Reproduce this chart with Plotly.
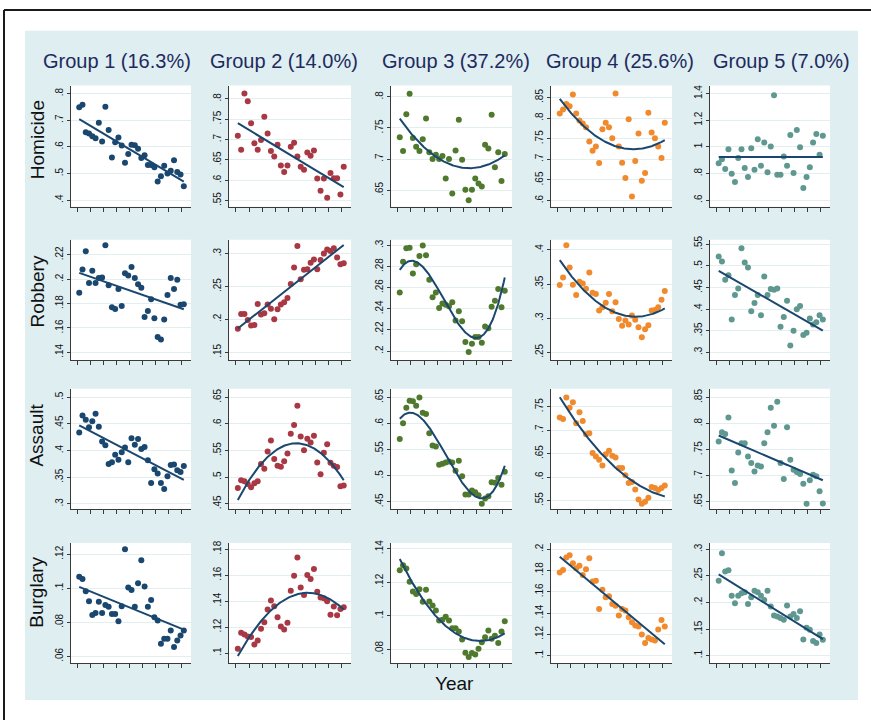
import numpy as np
import plotly.graph_objects as go

# ---------------------------------------------------------------------------
# Data: annual rates for 33 years, one series per crime type and group
# ---------------------------------------------------------------------------
years = list(range(1980, 2013))

crimes = ["Homicide", "Robbery", "Assault", "Burglary"]
groups = ["Group 1 (16.3%)", "Group 2 (14.0%)", "Group 3 (37.2%)",
          "Group 4 (25.6%)", "Group 5 (7.0%)"]

homicide_g1 = [.749, .758, .655, .650, .640, .632, .690, .620, .750, .663, .560,
               .617, .635, .605, .540, .573, .608, .606, .593, .558, .569, .532,
               .532, .524, .470, .490, .529, .500, .510, .550, .506, .496, .452]
homicide_g2 = [.709, .675, .813, .794, .740, .691, .675, .699, .756, .715, .672,
               .658, .687, .636, .620, .636, .682, .692, .658, .633, .626, .668,
               .660, .673, .604, .574, .604, .557, .618, .605, .605, .565, .633]
homicide_g3 = [.735, .713, .772, .805, .734, .720, .713, .732, .765, .711, .700,
               .707, .700, .705, .669, .700, .645, .714, .763, .699, .651, .634,
               .651, .669, .661, .656, .723, .717, .771, .687, .711, .665, .708]
homicide_g4 = [.811, .821, .834, .829, .857, .811, .794, .787, .778, .743, .721,
               .731, .691, .773, .789, .778, .751, .860, .731, .692, .655, .797,
               .610, .696, .763, .648, .667, .813, .765, .751, .731, .703, .789]
homicide_g5 = [.878, .908, .834, .983, .799, .737, .916, .983, .841, .774, .990,
               .829, 1.057, .858, 1.032, .809, 1.002, 1.388, .791, .791, .928, .858,
               1.089, .804, 1.127, .997, .692, .774, .848, 1.032, 1.097, .940, 1.084]

robbery_g1 = [.189, .208, .223, .197, .207, .197, .201, .2015, .228, .195, .177,
              .1756, .192, .178, .205, .203, .210, .201, .196, .193, .169, .174,
              .1835, .168, .1525, .1506, .167, .187, .201, .192, .1996, .179, .1795]
robbery_g2 = [.1857, .2084, .2084, .1993, .1907, .1917, .2235, .2074, .2094, .2225, .2164,
              .2003, .2154, .2225, .226, .2325, .2537, .2789, .3116, .2612, .2753, .2763,
              .2859, .2909, .2763, .2904, .300, .306, .304, .308, .294, .2839, .2854]
robbery_g3 = [.2555, .2846, .2972, .2978, .2734, .2821, .290, .300, .2906, .2674, .2508,
              .2555, .2408, .2451, .2439, .2423, .2461, .2288, .2376, .2282, .2085, .1991,
              .2069, .2132, .2132, .2078, .2232, .2216, .242, .2476, .2586, .2414, .2571]
robbery_g4 = [.3485, .3597, .4068, .3743, .349, .334, .3534, .351, .3432, .367, .3374,
              .3354, .3112, .316, .3228, .3354, .3102, .3233, .299, .2888, .2966, .2908,
              .3039, .2976, .2869, .2723, .284, .2898, .3112, .3121, .316, .3272, .3398]
robbery_g5 = [.5216, .5101, .4679, .4787, .3759, .4327, .448, .5408, .5078, .4963, .3951,
              .4143, .4327, .3859, .4756, .4327, .4465, .4449, .448, .359, .382, .4196,
              .3161, .3499, .3997, .4074, .3399, .3452, .3782, .3644, .3698, .3859, .3759]

assault_g1 = [.434, .466, .458, .444, .455, .469, .445, .417, .410, .375, .378,
              .392, .383, .397, .406, .378, .423, .411, .422, .403, .407, .382,
              .339, .365, .357, .339, .328, .352, .373, .374, .363, .360, .371]
assault_g2 = [.4799, .4942, .4924, .4874, .4812, .4886, .4924, .5248, .516, .5484, .569,
              .5341, .5216, .5198, .5298, .5447, .5815, .5983, .6344, .5765, .5509, .5721,
              .5653, .5777, .5279, .5054, .5459, .5621, .5273, .5216, .5192, .483, .4843]
assault_g3 = [.5706, .6005, .6303, .6437, .643, .6341, .650, .6208, .6183, .5814, .5579,
              .556, .5211, .523, .5256, .5275, .5256, .5097, .5287, .4989, .464, .464,
              .4716, .4684, .4627, .4462, .4563, .4608, .4875, .4868, .4957, .483, .5078]
assault_g4 = [.7267, .7239, .7698, .7479, .7592, .7147, .738, .7196, .6913, .6935, .6511,
              .644, .6369, .6249, .6489, .656, .6454, .6419, .6193, .6193, .6037, .5875,
              .5896, .5733, .5521, .5429, .5472, .5557, .579, .5769, .5726, .5769, .5818]
assault_g5 = [.7656, .7833, .7802, .8119, .7103, .6862, .7446, .7624, .7624, .737, .7243,
              .7084, .7198, .7179, .7624, .7833, .8303, .796, .8417, .7243, .6938, .7929,
              .7306, .7116, .7071, .7033, .6849, .6462, .6913, .7021, .6989, .6703, .6468]

burglary_g1 = [.1068, .1054, .0982, .0923, .0843, .0855, .0921, .0855, .0902, .0892, .0849,
               .0849, .0806, .0894, .1229, .1005, .0990, .0892, .1029, .1165, .1011, .0892,
               .0931, .0830, .0810, .0674, .0703, .0703, .0752, .0655, .0693, .0723, .0752]
burglary_g2 = [.1033, .1156, .1143, .1128, .1123, .1066, .1097, .1187, .1238, .1335, .1404,
               .1360, .1276, .1204, .1181, .1233, .1481, .1596, .1736, .1506, .1447, .1601,
               .1570, .1647, .1473, .1429, .1422, .1399, .1296, .1358, .1291, .1340, .1353]
burglary_g3 = [.1272, .1301, .1282, .1203, .1145, .1130, .1159, .1084, .1155, .1086, .1061,
               .1031, .0972, .0976, .0995, .0972, .0926, .0926, .0907, .0859, .0780, .0755,
               .0778, .0770, .0804, .0843, .0873, .0913, .0863, .0881, .0838, .0907, .0968]
burglary_g4 = [.1782, .1804, .1922, .1944, .1869, .1822, .1844, .1757, .1813, .1916, .1698,
               .1704, .1439, .1620, .1548, .1558, .1486, .1470, .1377, .1439, .1424, .1361,
               .1315, .1283, .1274, .1199, .1118, .1165, .1153, .1143, .1246, .1336, .1274]
burglary_g5 = [.2408, .2925, .2583, .2607, .2128, .1984, .2128, .2171, .2190, .1972, .2097,
               .2221, .2190, .2128, .2047, .2221, .1922, .1754, .1735, .1710, .1673, .1941,
               .1735, .1785, .1710, .1835, .1305, .1523, .1486, .1274, .1237, .1399, .1299]

# Polynomial order of each group's trajectory, per crime (rows) and group (columns)
fit_degree = [
    [1, 1, 2, 2, 0],
    [1, 1, 3, 2, 1],
    [1, 2, 3, 2, 1],
    [1, 2, 2, 1, 1],
]

# Y-axis tick values, per crime and group
yticks_homicide = [[.4, .5, .6, .7, .8], [.55, .6, .65, .7, .75, .8], [.65, .7, .75, .8],
                   [.6, .65, .7, .75, .8, .85], [.6, .8, 1, 1.2, 1.4]]
yticks_robbery = [[.14, .16, .18, .2, .22], [.15, .2, .25, .3], [.2, .22, .24, .26, .28, .3],
                  [.25, .3, .35, .4], [.3, .35, .4, .45, .5, .55]]
yticks_assault = [[.3, .35, .4, .45, .5], [.45, .5, .55, .6, .65], [.45, .5, .55, .6, .65],
                  [.55, .6, .65, .7, .75], [.65, .7, .75, .8, .85]]
yticks_burglary = [[.06, .08, .1, .12], [.1, .12, .14, .16, .18], [.08, .1, .12, .14],
                   [.1, .12, .14, .16, .18, .2], [.1, .15, .2, .25, .3]]

series = [
    [homicide_g1, homicide_g2, homicide_g3, homicide_g4, homicide_g5],
    [robbery_g1, robbery_g2, robbery_g3, robbery_g4, robbery_g5],
    [assault_g1, assault_g2, assault_g3, assault_g4, assault_g5],
    [burglary_g1, burglary_g2, burglary_g3, burglary_g4, burglary_g5],
]
yticks = [yticks_homicide, yticks_robbery, yticks_assault, yticks_burglary]

# ---------------------------------------------------------------------------
# Layout settings
# ---------------------------------------------------------------------------
W, H = 871, 720
group_colors = ["#1a476f", "#a83843", "#4f7a2e", "#f08a2c", "#5e9890"]
fit_color = "#1a476f"
region_color = "#deeef1"
grid_color = "#e3eef0"
axis_color = "#3a3a3a"
title_color = "#1e2a5e"
FONT = "Liberation Sans, Arial, Helvetica, sans-serif"

# Panel plot-region edges in pixels
col_edges = [(70.5, 191), (229, 351), (391, 512), (551, 672), (710, 830)]
row_edges = [(82, 204), (237, 358), (387, 508), (542, 663)]

# Y-axis ranges of each panel
yranges = [
    [(0.375, 0.830), (0.5346, 0.8325), (0.6234, 0.818), (0.5848, 0.879), (0.55, 1.46)],
    [(0.1337, 0.2325), (0.1384, 0.3211), (0.1915, 0.3054), (0.2388, 0.415), (0.2823, 0.5608)],
    [(0.290, 0.516), (0.440, 0.666), (0.436, 0.6666), (0.5316, 0.788), (0.636, 0.8666)],
    [(0.0559, 0.1266), (0.0921, 0.1848), (0.0717, 0.1434), (0.0928, 0.2059), (0.0856, 0.3118)],
]
xrange_ = (1977.33, 2014.2)
xtickvals = [1979.4 + 4 * k for k in range(9)]


def px_x(p):
    return p / W


def px_y(p):
    return 1 - p / H


def stata_label(v):
    s = f"{v:g}"
    if s.startswith("0."):
        s = s[1:]
    return s


fig = go.Figure()
layout = dict(
    width=W, height=H, autosize=False,
    margin=dict(l=0, r=0, t=0, b=0),
    paper_bgcolor="white", plot_bgcolor="white",
    showlegend=False,
    font=dict(family=FONT, color="#111111"),
)
shapes = [
    # shaded graph region
    dict(type="rect", xref="paper", yref="paper",
         x0=px_x(25), x1=px_x(858), y0=px_y(700), y1=px_y(27),
         fillcolor=region_color, line=dict(width=0), layer="below"),
    # outer frame
    dict(type="line", xref="paper", yref="paper",
         x0=px_x(4), x1=px_x(880), y0=px_y(6), y1=px_y(6),
         line=dict(color="#1a1a1a", width=2)),
    dict(type="line", xref="paper", yref="paper",
         x0=px_x(4), x1=px_x(4), y0=px_y(6), y1=px_y(730),
         line=dict(color="#1a1a1a", width=2)),
]
annotations = []

xs_fine = np.linspace(years[0], years[-1], 200)

for r in range(4):
    for c in range(5):
        i = r * 5 + c + 1
        sfx = "" if i == 1 else str(i)
        xa, ya = "x" + sfx, "y" + sfx
        vals = series[r][c]

        fig.add_trace(go.Scatter(
            x=years, y=vals, mode="markers", xaxis=xa, yaxis=ya,
            marker=dict(size=6, color=group_colors[c], line=dict(width=0)),
            hoverinfo="skip"))

        poly = np.polynomial.Polynomial.fit(years, vals, fit_degree[r][c])
        fig.add_trace(go.Scatter(
            x=xs_fine, y=poly(xs_fine), mode="lines", xaxis=xa, yaxis=ya,
            line=dict(color=fit_color, width=2), hoverinfo="skip"))

        x0, x1 = col_edges[c]
        y0, y1 = row_edges[r]
        layout["xaxis" + sfx] = dict(
            domain=[px_x(x0), px_x(x1)], anchor=ya, range=list(xrange_),
            tickvals=xtickvals, showticklabels=False, ticks="outside",
            ticklen=4, tickwidth=1, tickcolor=axis_color,
            showline=True, linecolor=axis_color, linewidth=1, mirror=False,
            showgrid=False, zeroline=False, fixedrange=True)
        tv = yticks[r][c]
        layout["yaxis" + sfx] = dict(
            domain=[px_y(y1), px_y(y0)], anchor=xa, range=list(yranges[r][c]),
            tickvals=tv, ticktext=[stata_label(v) for v in tv],
            tickangle=-90, tickfont=dict(size=10, color="#111111", family=FONT),
            ticks="outside", ticklen=3, tickwidth=1, tickcolor=axis_color,
            showline=True, linecolor=axis_color, linewidth=1, mirror=False,
            showgrid=True, gridcolor=grid_color, gridwidth=1,
            zeroline=False, fixedrange=True)
        shapes.append(dict(type="rect", xref=xa + " domain", yref=ya + " domain",
                           x0=0, x1=1, y0=0, y1=1, fillcolor="white",
                           line=dict(width=0), layer="below"))

# Column titles
title_x = [117.5, 284, 455.5, 620, 781]
for c, g in enumerate(groups):
    annotations.append(dict(
        text=g, x=px_x(title_x[c]), y=px_y(57), xref="paper", yref="paper",
        xanchor="center", yanchor="middle", showarrow=False,
        font=dict(size=20, color=title_color, family=FONT)))

# Row labels
label_y = [137, 289, 434, 592]
for r, name in enumerate(crimes):
    annotations.append(dict(
        text=name, x=px_x(37), y=px_y(label_y[r]), xref="paper", yref="paper",
        xanchor="center", yanchor="middle", textangle=-90, showarrow=False,
        font=dict(size=19, color="#111111", family=FONT)))

# Shared x-axis title
annotations.append(dict(
    text="Year", x=px_x(455), y=px_y(683), xref="paper", yref="paper",
    xanchor="center", yanchor="middle", showarrow=False,
    font=dict(size=19, color="#111111", family=FONT)))

layout["shapes"] = shapes
layout["annotations"] = annotations
fig.update_layout(**layout)

fig.write_html("out.html", config={"displayModeBar": False})
